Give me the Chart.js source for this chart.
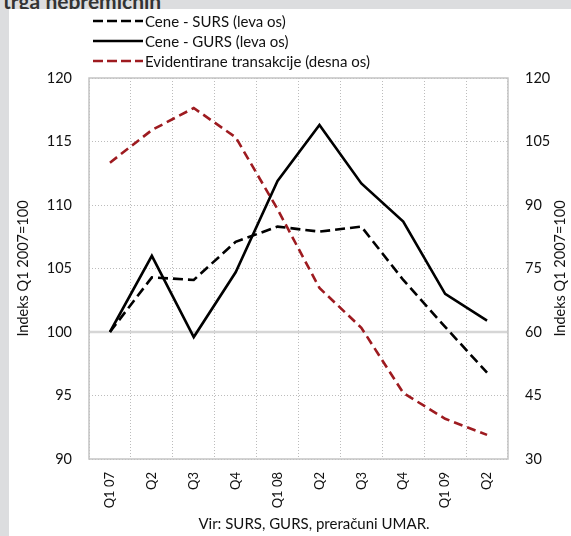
<!DOCTYPE html>
<html>
<head>
<meta charset="utf-8">
<script src="https://cdn.jsdelivr.net/npm/chart.js@4/dist/chart.umd.min.js"></script>
<style>
  body { margin: 0; background: #dcdddf; font-family: Lato, sans-serif; }
  #wrap { position: relative; width: 571px; height: 536px; overflow: hidden; }
  #head { position: absolute; left: 3px; top: -12px; font: bold 21px Lato, sans-serif; color: #333; z-index: 0; white-space: nowrap; }
  #panel { position: absolute; left: 9px; top: 9px; width: 562px; height: 527px; background: #fff; z-index: 1; }
  #chart { position: absolute; left: 0; top: 0; z-index: 2; }
  .leg { position: absolute; left: 93px; height: 20px; z-index: 3; display: flex; align-items: center; font-size: 15px; color: #111; white-space: nowrap; }
  .leg svg { margin-right: 2px; }
  #src { position: absolute; left: 0; width: 628px; top: 514px; text-align: center; font-size: 15px; color: #111; z-index: 3; }
</style>
</head>
<body>
<div id="wrap">
  <div id="head">trga nepremičnin</div>
  <div id="panel"></div>
  <canvas id="chart" width="571" height="536"></canvas>
  <div class="leg" style="top:11px"><svg width="50" height="10"><line x1="0" y1="5" x2="50" y2="5" stroke="#000" stroke-width="2.6" stroke-dasharray="10,4"/></svg><span>Cene - SURS (leva os)</span></div>
  <div class="leg" style="top:31px"><svg width="50" height="10"><line x1="0" y1="5" x2="50" y2="5" stroke="#000" stroke-width="2.6"/></svg><span>Cene - GURS (leva os)</span></div>
  <div class="leg" style="top:51px"><svg width="50" height="10"><line x1="0" y1="5" x2="50" y2="5" stroke="#9e1b20" stroke-width="2.6" stroke-dasharray="10,4"/></svg><span>Evidentirane transakcije (desna os)</span></div>
  <div id="src">Vir: SURS, GURS, preračuni UMAR.</div>
</div>
<script>
// DATA
const quarters = ['Q1 07', 'Q2', 'Q3', 'Q4', 'Q1 08', 'Q2', 'Q3', 'Q4', 'Q1 09', 'Q2'];
const ceneSurs = [100, 104.3, 104.1, 107.1, 108.3, 107.9, 108.3, 104.1, 100.4, 96.8];
const ceneGurs = [100, 106.0, 99.6, 104.7, 111.9, 116.3, 111.7, 108.7, 103.0, 100.9];
const transakcije = [100, 107.7, 112.9, 106.0, 89.0, 70.4, 61.0, 45.6, 39.5, 35.7];
const axisTitle = 'Indeks Q1 2007=100';

const tickFont = {family: 'Lato', size: 14.5};
const gridColor = '#bcbcbc';

// frame, the line at 100 and the right-hand axis title
const extras = {
  id: 'extras',
  beforeDatasetsDraw(chart) {
    const {ctx, chartArea: a, scales} = chart;
    const y100 = scales.y.getPixelForValue(100);
    ctx.save();
    ctx.strokeStyle = '#d6d6d6';
    ctx.lineWidth = 2.5;
    ctx.beginPath();
    ctx.moveTo(a.left, y100);
    ctx.lineTo(a.right, y100);
    ctx.stroke();
    ctx.strokeStyle = '#c4c4c4';
    ctx.lineWidth = 1.5;
    ctx.strokeRect(a.left, a.top, a.right - a.left, a.bottom - a.top);
    ctx.restore();
  },
  afterDraw(chart) {
    const {ctx, chartArea: a} = chart;
    ctx.save();
    ctx.translate(560, (a.top + a.bottom) / 2);
    ctx.rotate(-Math.PI / 2);
    ctx.font = '14.5px Lato';
    ctx.fillStyle = '#111';
    ctx.textAlign = 'center';
    ctx.textBaseline = 'middle';
    ctx.fillText(axisTitle, 0, 0);
    ctx.restore();
  }
};

new Chart(document.getElementById('chart'), {
  type: 'line',
  data: {
    labels: quarters,
    datasets: [
      {label: 'Cene - SURS (leva os)', data: ceneSurs, yAxisID: 'y',
       borderColor: '#000', borderWidth: 2.6, borderDash: [10, 5]},
      {label: 'Cene - GURS (leva os)', data: ceneGurs, yAxisID: 'y',
       borderColor: '#000', borderWidth: 2.6},
      {label: 'Evidentirane transakcije (desna os)', data: transakcije, yAxisID: 'y2',
       borderColor: '#9e1b20', borderWidth: 2.6, borderDash: [9, 5]}
    ]
  },
  options: {
    responsive: false,
    animation: false,
    devicePixelRatio: 1,
    layout: {padding: {top: 78, left: 0, right: 0, bottom: 0}},
    elements: {point: {radius: 0}, line: {tension: 0, fill: false}},
    plugins: {legend: {display: false}, tooltip: {enabled: false}},
    scales: {
      x: {
        offset: true,
        grid: {offset: true, color: gridColor, drawTicks: false},
        border: {display: false, dash: [1, 2]},
        ticks: {font: {family: 'Lato', size: 13}, color: '#111', padding: 13,
                minRotation: 90, maxRotation: 90, autoSkip: false},
        afterFit(s) { s.height = 77; }
      },
      y: {
        position: 'left',
        min: 90, max: 120,
        ticks: {stepSize: 5, font: tickFont, color: '#111', padding: 17},
        grid: {color: gridColor, drawTicks: false},
        border: {display: false, dash: [1, 2]},
        title: {display: true, text: axisTitle, font: {family: 'Lato', size: 14.5},
                color: '#111', padding: {top: 15, bottom: 0}},
        afterFit(s) { s.width = 89; }
      },
      y2: {
        position: 'right',
        min: 30, max: 120,
        ticks: {stepSize: 15, font: tickFont, color: '#111', padding: 17},
        grid: {display: false, drawTicks: false},
        border: {display: false},
        afterFit(s) { s.width = 63; }
      }
    }
  },
  plugins: [extras]
});
</script>
</body>
</html>
